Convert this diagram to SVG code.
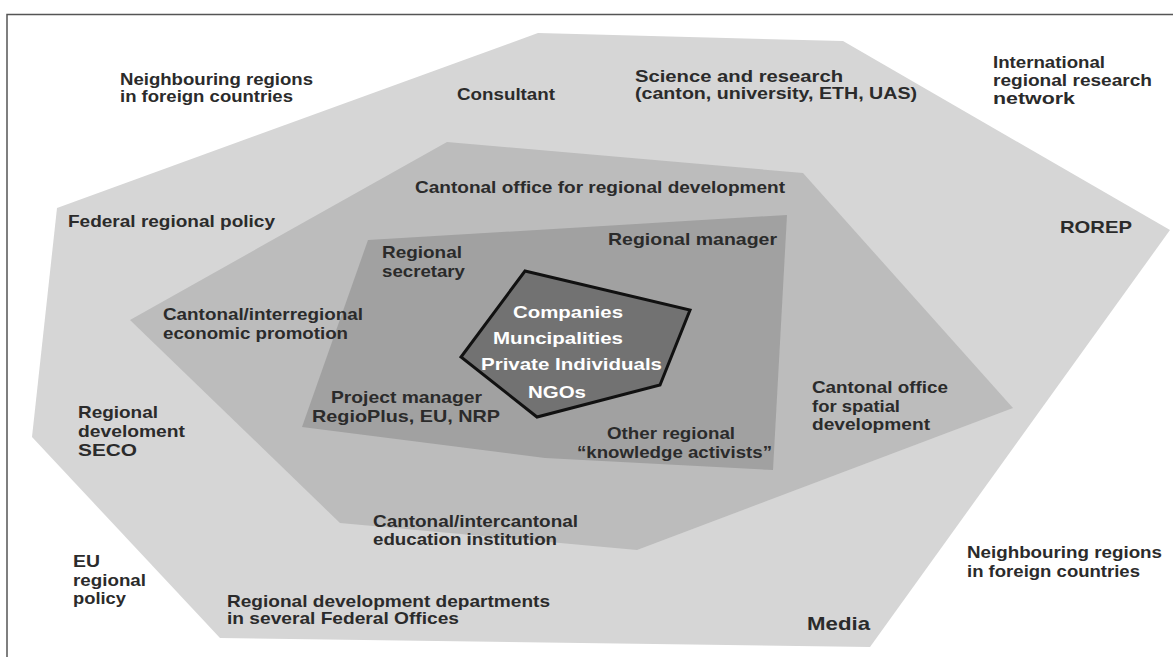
<svg xmlns="http://www.w3.org/2000/svg" width="1173" height="657" viewBox="0 0 1173 657">
<style>
.t{font-family:"Liberation Sans",Arial,sans-serif;font-size:17px;font-weight:bold;fill:#2b2b2b}
.w{font-family:"Liberation Sans",Arial,sans-serif;font-size:17px;font-weight:bold;fill:#ffffff}
.frame{stroke:#555;stroke-width:1.5;fill:none}
</style>
<rect width="1173" height="657" fill="#ffffff"/>
<path class="frame" d="M7 657 V14.5 H1173"/>
<g id="outer-layer">
<polygon points="57,208 538,33 843,41 1170,230 870,647 220,638 32,437" fill="#d6d6d6"/>
</g>
<g id="cantonal-layer">
<polygon points="447,142 803,173 1013,408 637,550 340,523 130,320" fill="#bcbcbc"/>
</g>
<g id="regional-layer">
<polygon points="368,240 787,215 773,470 545,458 302,427" fill="#a1a1a1"/>
</g>
<g id="core">
<polygon points="525,271 690,310 660,385 537,417 461,357" fill="#727272" stroke="#111" stroke-width="3" stroke-linejoin="miter"/>
<text class="w" x="513" y="318" textLength="110" lengthAdjust="spacingAndGlyphs">Companies</text>
<text class="w" x="493" y="344" textLength="130" lengthAdjust="spacingAndGlyphs">Muncipalities</text>
<text class="w" x="481" y="370" textLength="181" lengthAdjust="spacingAndGlyphs">Private Individuals</text>
<text class="w" x="528" y="398" textLength="58" lengthAdjust="spacingAndGlyphs">NGOs</text>
</g>
<g id="connectors"></g>
<g id="n-neighbouring-tl">
<text class="t" x="120" y="85" textLength="193" lengthAdjust="spacingAndGlyphs">Neighbouring regions</text>
<text class="t" x="120" y="102" textLength="173" lengthAdjust="spacingAndGlyphs">in foreign countries</text>
</g>
<g id="n-federal-policy">
<text class="t" x="68" y="227" textLength="207" lengthAdjust="spacingAndGlyphs">Federal regional policy</text>
</g>
<g id="n-consultant">
<text class="t" x="457" y="100" textLength="98" lengthAdjust="spacingAndGlyphs">Consultant</text>
</g>
<g id="n-science">
<text class="t" x="635" y="82" textLength="208" lengthAdjust="spacingAndGlyphs">Science and research</text>
<text class="t" x="635" y="99" textLength="282" lengthAdjust="spacingAndGlyphs">(canton, university, ETH, UAS)</text>
</g>
<g id="n-international">
<text class="t" x="993" y="68" textLength="112" lengthAdjust="spacingAndGlyphs">International</text>
<text class="t" x="993" y="86" textLength="159" lengthAdjust="spacingAndGlyphs">regional research</text>
<text class="t" x="993" y="104" textLength="82" lengthAdjust="spacingAndGlyphs">network</text>
</g>
<g id="n-rorep">
<text class="t" x="1060" y="233" textLength="72" lengthAdjust="spacingAndGlyphs">ROREP</text>
</g>
<g id="n-cantonal-regional">
<text class="t" x="415" y="193" textLength="370" lengthAdjust="spacingAndGlyphs">Cantonal office for regional development</text>
</g>
<g id="n-regional-manager">
<text class="t" x="608" y="245" textLength="169" lengthAdjust="spacingAndGlyphs">Regional manager</text>
</g>
<g id="n-regional-secretary">
<text class="t" x="382" y="258" textLength="80" lengthAdjust="spacingAndGlyphs">Regional</text>
<text class="t" x="382" y="277" textLength="83" lengthAdjust="spacingAndGlyphs">secretary</text>
</g>
<g id="n-economic-promotion">
<text class="t" x="163" y="320" textLength="200" lengthAdjust="spacingAndGlyphs">Cantonal/interregional</text>
<text class="t" x="163" y="339" textLength="185" lengthAdjust="spacingAndGlyphs">economic promotion</text>
</g>
<g id="n-project-manager">
<text class="t" x="331" y="403" textLength="151" lengthAdjust="spacingAndGlyphs">Project manager</text>
<text class="t" x="312" y="422" textLength="188" lengthAdjust="spacingAndGlyphs">RegioPlus, EU, NRP</text>
</g>
<g id="n-other-regional">
<text class="t" x="607" y="439" textLength="128" lengthAdjust="spacingAndGlyphs">Other regional</text>
<text class="t" x="577" y="458" textLength="195" lengthAdjust="spacingAndGlyphs">“knowledge activists”</text>
</g>
<g id="n-spatial">
<text class="t" x="812" y="393" textLength="136" lengthAdjust="spacingAndGlyphs">Cantonal office</text>
<text class="t" x="812" y="412" textLength="88" lengthAdjust="spacingAndGlyphs">for spatial</text>
<text class="t" x="812" y="430" textLength="118" lengthAdjust="spacingAndGlyphs">development</text>
</g>
<g id="n-education">
<text class="t" x="373" y="527" textLength="205" lengthAdjust="spacingAndGlyphs">Cantonal/intercantonal</text>
<text class="t" x="373" y="545" textLength="184" lengthAdjust="spacingAndGlyphs">education institution</text>
</g>
<g id="n-seco">
<text class="t" x="78" y="418" textLength="80" lengthAdjust="spacingAndGlyphs">Regional</text>
<text class="t" x="78" y="437" textLength="107" lengthAdjust="spacingAndGlyphs">develoment</text>
<text class="t" x="78" y="456" textLength="59" lengthAdjust="spacingAndGlyphs">SECO</text>
</g>
<g id="n-eu-policy">
<text class="t" x="73" y="567" textLength="27" lengthAdjust="spacingAndGlyphs">EU</text>
<text class="t" x="73" y="586" textLength="73" lengthAdjust="spacingAndGlyphs">regional</text>
<text class="t" x="73" y="604" textLength="53" lengthAdjust="spacingAndGlyphs">policy</text>
</g>
<g id="n-federal-offices">
<text class="t" x="227" y="607" textLength="323" lengthAdjust="spacingAndGlyphs">Regional development departments</text>
<text class="t" x="227" y="624" textLength="232" lengthAdjust="spacingAndGlyphs">in several Federal Offices</text>
</g>
<g id="n-media">
<text class="t" x="807" y="630" style="font-size:18.5px" textLength="63" lengthAdjust="spacingAndGlyphs">Media</text>
</g>
<g id="n-neighbouring-br">
<text class="t" x="967" y="558" textLength="195" lengthAdjust="spacingAndGlyphs">Neighbouring regions</text>
<text class="t" x="967" y="577" textLength="173" lengthAdjust="spacingAndGlyphs">in foreign countries</text>
</g>
</svg>
